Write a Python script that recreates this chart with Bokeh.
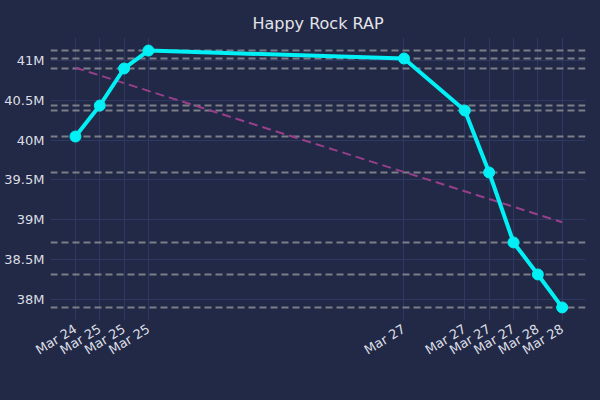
import pandas as pd
from bokeh.plotting import figure
from bokeh.models import FixedTicker, Span, Range1d
from bokeh.embed import file_html
from bokeh.resources import INLINE

# ---- data ----
times = ["2024-03-24 20:00", "2024-03-25 00:00", "2024-03-25 04:00", "2024-03-25 08:00",
         "2024-03-27 02:00", "2024-03-27 12:00", "2024-03-27 16:00", "2024-03-27 20:00",
         "2024-03-28 00:00", "2024-03-28 04:00"]
values = [40.046e6, 40.435e6, 40.90e6, 41.125e6, 41.025e6,
          40.372e6, 39.594e6, 38.716e6, 38.314e6, 37.90e6]
x_labels = ["Mar 24", "Mar 25", "Mar 25", "Mar 25", "Mar 27",
            "Mar 27", "Mar 27", "Mar 27", "Mar 28", "Mar 28"]
trend_times = ["2024-03-24 20:00", "2024-03-28 04:00"]
trend_values = [40.91e6, 38.97e6]
y_ticks = [38.0e6, 38.5e6, 39.0e6, 39.5e6, 40.0e6, 40.5e6, 41.0e6]
y_labels = ["38M", "38.5M", "39M", "39.5M", "40M", "40.5M", "41M"]
title = "Happy Rock RAP"

# ---- style ----
BG = "#222946"
GRID = "#2e3862"
TXT = "#e2e4ea"
FONT = "DejaVu Sans"

xs = [pd.Timestamp(t) for t in times]
xms = [t.value / 1e6 for t in xs]
txs = [pd.Timestamp(t) for t in trend_times]

p = figure(width=600, height=400, x_axis_type="datetime",
           output_backend="svg", toolbar_location=None,
           x_range=Range1d(pd.Timestamp("2024-03-24 15:54"), pd.Timestamp("2024-03-28 07:50")),
           y_range=Range1d(37.736e6, 41.289e6),
           min_border_left=50, min_border_right=15, min_border_top=37, min_border_bottom=80)

p.background_fill_color = BG
p.border_fill_color = BG
p.outline_line_color = None

p.title.text = title
p.title.align = "center"
p.title.text_color = TXT
p.title.text_font = FONT
p.title.text_font_size = "16px"
p.title.text_font_style = "normal"

p.xaxis.ticker = FixedTicker(ticks=xms)
p.xaxis.major_label_overrides = {v: l for v, l in zip(xms, x_labels)}
p.yaxis.ticker = FixedTicker(ticks=y_ticks)
p.yaxis.major_label_overrides = {v: l for v, l in zip(y_ticks, y_labels)}
p.xaxis.major_label_orientation = 0.55

for ax in (p.xaxis, p.yaxis):
    ax.axis_line_color = None
    ax.major_tick_line_color = None
    ax.minor_tick_line_color = None
    ax.major_tick_out = 0
    ax.major_tick_in = 0
    ax.minor_tick_out = 0
    ax.minor_tick_in = 0
    ax.major_label_text_color = "#dcdee5"
    ax.major_label_text_font = FONT
    ax.major_label_text_font_size = "13px"
p.yaxis.major_label_standoff = 6
p.xaxis.major_label_standoff = 7

p.xgrid.grid_line_color = GRID
p.ygrid.grid_line_color = GRID
p.xgrid.grid_line_width = 1
p.ygrid.grid_line_width = 1

for v in values:
    p.add_layout(Span(location=v, dimension="width", line_color="#7c7f88",
                      line_width=2, line_dash="7 4", level="underlay"))

p.line(txs, trend_values, line_color="#973f8a", line_width=2, line_dash="9 5")
p.line(xs, values, line_color="#00f0f5", line_width=4)
p.scatter(xs, values, size=11, fill_color="#00f0f5", line_color="#00f0f5")

html = file_html(p, INLINE)
html = html.replace("<head>", "<head><style>html, body { background: #222946; margin: 0; }</style>", 1)
open("out.html", "w").write(html)
